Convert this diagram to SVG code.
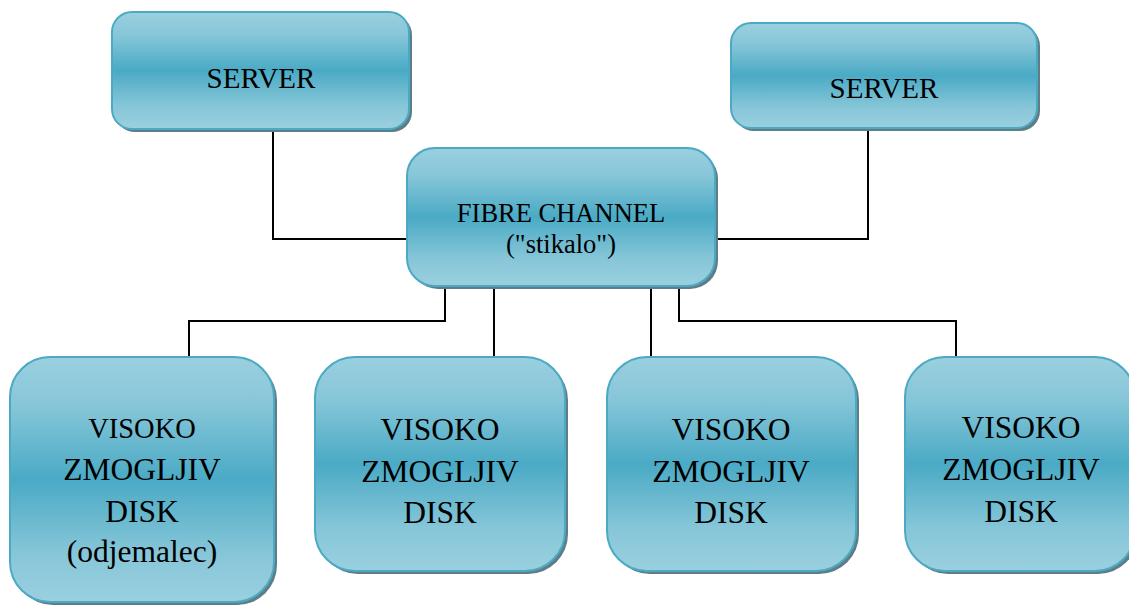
<svg xmlns="http://www.w3.org/2000/svg" width="1129" height="605" viewBox="0 0 1129 605">
<defs>
<linearGradient id="g" x1="0" y1="0" x2="0" y2="1">
<stop offset="0" stop-color="#9ad0df"/>
<stop offset="0.2" stop-color="#86c6d8"/>
<stop offset="0.5" stop-color="#4aaac5"/>
<stop offset="0.8" stop-color="#86c6d8"/>
<stop offset="1" stop-color="#9ad0df"/>
</linearGradient>
</defs>
<style>
.box{fill:url(#g);stroke:#4ba9c3;stroke-width:2}
.sh{fill:#5e7d86}
.c{fill:none;stroke:#000;stroke-width:2}
.t{fill:#000;text-anchor:middle;font-family:"Liberation Serif","Times New Roman",serif}
</style>
<g id="connectors">
<path class="c" d="M273,129 V239 H407"/>
<path class="c" d="M868,128 V239 H716"/>
<path class="c" d="M445,287 V321 H189 V357"/>
<path class="c" d="M494,287 V357"/>
<path class="c" d="M651,287 V357"/>
<path class="c" d="M679,287 V321 H956 V357"/>
</g>
<g id="server1">
<rect class="sh" x="115" y="15" width="297" height="117" rx="20"/>
<rect class="box" x="112" y="12" width="297" height="117" rx="20"/>
<text class="t" x="261" y="88" font-size="29">SERVER</text>
</g>
<g id="server2">
<rect class="sh" x="734" y="26" width="306" height="105" rx="20"/>
<rect class="box" x="731" y="23" width="306" height="105" rx="20"/>
<text class="t" x="884" y="98" font-size="29">SERVER</text>
</g>
<g id="fibre">
<rect class="sh" x="410" y="151" width="308" height="138" rx="28"/>
<rect class="box" x="407" y="148" width="308" height="138" rx="28"/>
<text class="t" x="561" y="222" font-size="26.5">FIBRE CHANNEL</text>
<text class="t" x="561" y="253" font-size="26.5">("stikalo")</text>
</g>
<g id="disk1">
<rect class="sh" x="13" y="360" width="264" height="245" rx="40"/>
<rect class="box" x="10" y="357" width="264" height="245" rx="40"/>
<text class="t" x="142" y="438" font-size="28.5">VISOKO</text>
<text class="t" x="142" y="480" font-size="31.5">ZMOGLJIV</text>
<text class="t" x="142" y="522" font-size="31.5">DISK</text>
<text class="t" x="142" y="562" font-size="31.5">(odjemalec)</text>
</g>
<g id="disk2">
<rect class="sh" x="318" y="360" width="250" height="214" rx="40"/>
<rect class="box" x="315" y="357" width="250" height="214" rx="40"/>
<text class="t" x="440" y="440" font-size="31.5">VISOKO</text>
<text class="t" x="440" y="482" font-size="31.5">ZMOGLJIV</text>
<text class="t" x="440" y="523" font-size="31.5">DISK</text>
</g>
<g id="disk3">
<rect class="sh" x="610" y="360" width="249" height="214" rx="40"/>
<rect class="box" x="607" y="357" width="249" height="214" rx="40"/>
<text class="t" x="731" y="440" font-size="31.5">VISOKO</text>
<text class="t" x="731" y="482" font-size="31.5">ZMOGLJIV</text>
<text class="t" x="731" y="523" font-size="31.5">DISK</text>
</g>
<g id="disk4">
<rect class="sh" x="908" y="360" width="230" height="214" rx="40"/>
<rect class="box" x="905" y="357" width="230" height="214" rx="40"/>
<text class="t" x="1021" y="438" font-size="31.5">VISOKO</text>
<text class="t" x="1021" y="480" font-size="31.5">ZMOGLJIV</text>
<text class="t" x="1021" y="522" font-size="31.5">DISK</text>
</g>
</svg>
